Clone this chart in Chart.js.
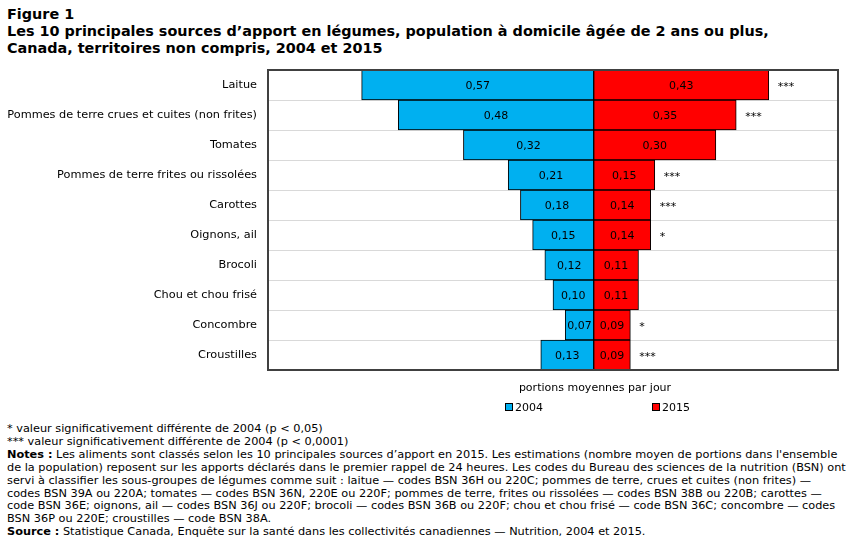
<!DOCTYPE html>
<html>
<head>
<meta charset="utf-8">
<script src="https://cdn.jsdelivr.net/npm/chart.js@4"></script>
<style>
  body { margin: 0; background: #fff; font-family: "DejaVu Sans", Verdana, sans-serif; color: #000; }
  #wrap { position: relative; width: 852px; height: 545px; overflow: hidden; }
  #title { position: absolute; left: 7px; top: 6px; font-size: 14.4px; line-height: 17px; font-weight: bold; white-space: nowrap; }
  #chart { position: absolute; left: 0; top: 0; }
  #axisTitle { position: absolute; left: 595px; top: 381px; transform: translateX(-50%); font-size: 11px; white-space: nowrap; }
  .leg { position: absolute; top: 401px; font-size: 11px; white-space: nowrap; }
  .leg span { display: inline-block; width: 6px; height: 6px; border: 1px solid #000; margin-right: 2px; vertical-align: 0px; }
  #notes { position: absolute; left: 7px; top: 423px; font-size: 11.3px; line-height: 12.9px; white-space: nowrap; }
</style>
</head>
<body>
<div id="wrap">
  <div id="title">Figure 1<br>Les 10 principales sources d’apport en légumes, population à domicile âgée de 2 ans ou plus,<br>Canada, territoires non compris, 2004 et 2015</div>
  <canvas id="chart" width="852" height="400"></canvas>
  <div id="axisTitle">portions moyennes par jour</div>
  <div class="leg" style="left:505px"><span style="background:#00b0f0"></span>2004</div>
  <div class="leg" style="left:652px"><span style="background:#ff0000"></span>2015</div>
  <div id="notes">
    * valeur significativement différente de 2004 (p &lt; 0,05)<br>
    *** valeur significativement différente de 2004 (p &lt; 0,0001)<br>
    <b>Notes :</b> Les aliments sont classés selon les 10 principales sources d’apport en 2015. Les estimations (nombre moyen de portions dans l'ensemble<br>
    de la population) reposent sur les apports déclarés dans le premier rappel de 24 heures. Les codes du Bureau des sciences de la nutrition (BSN) ont<br>
    servi à classifier les sous-groupes de légumes comme suit : laitue — codes BSN 36H ou 220C; pommes de terre, crues et cuites (non frites) —<br>
    codes BSN 39A ou 220A; tomates — codes BSN 36N, 220E ou 220F; pommes de terre, frites ou rissolées — codes BSN 38B ou 220B; carottes —<br>
    code BSN 36E; oignons, ail — codes BSN 36J ou 220F; brocoli — codes BSN 36B ou 220F; chou et chou frisé — code BSN 36C; concombre — codes<br>
    BSN 36P ou 220E; croustilles — code BSN 38A.<br>
    <b>Source :</b> Statistique Canada, Enquête sur la santé dans les collectivités canadiennes — Nutrition, 2004 et 2015.
  </div>
</div>
<script>
// data
var categories = ["Laitue", "Pommes de terre crues et cuites (non frites)", "Tomates",
    "Pommes de terre frites ou rissolées", "Carottes", "Oignons, ail", "Brocoli",
    "Chou et chou frisé", "Concombre", "Croustilles"];
var values2004 = [0.57, 0.48, 0.32, 0.21, 0.18, 0.15, 0.12, 0.10, 0.07, 0.13];
var values2015 = [0.43, 0.35, 0.30, 0.15, 0.14, 0.14, 0.11, 0.11, 0.09, 0.09];
var signif = ["***", "***", "", "***", "***", "*", "", "", "*", "***"];

var FONT = "DejaVu Sans";

//bar labels + significance marks
var labelPlugin = {
    id: "barLabels",
    afterDatasetsDraw(chart) {
        var ctx = chart.ctx;
        ctx.save();
        ctx.font = "11px '" + FONT + "'";
        ctx.fillStyle = "#000";
        ctx.textBaseline = "middle";
        chart.data.datasets.forEach((ds, di) => {
            chart.getDatasetMeta(di).data.forEach((bar, i) => {
                var v = Math.abs(ds.data[i]);
                ctx.textAlign = "center";
                ctx.fillText(v.toFixed(2).replace(".", ","), (bar.x + bar.base) / 2, bar.y + 1);
                if (di == 1 && signif[i]) {
                    ctx.textAlign = "left";
                    ctx.fillText(signif[i], bar.x + 9, bar.y + 2);
                }
            });
        });
        ctx.restore();
    }
};

//frame round plot area
var framePlugin = {
    id: "frame",
    afterDraw(chart) {
        var a = chart.chartArea, ctx = chart.ctx;
        ctx.save();
        ctx.strokeStyle = "#404040";
        ctx.lineWidth = 2;
        ctx.strokeRect(a.left, a.top, a.right - a.left, a.bottom - a.top);
        ctx.restore();
    }
};

new Chart(document.getElementById("chart"), {
    type: "bar",
    data: {
        labels: categories,
        datasets: [{
            label: "2004",
            data: values2004.map(v => -v),
            backgroundColor: "#00b0f0",
            borderColor: "#000",
            borderWidth: 1,
            borderSkipped: false,
            barPercentage: 1,
            categoryPercentage: 1
        }, {
            label: "2015",
            data: values2015,
            backgroundColor: "#ff0000",
            borderColor: "#000",
            borderWidth: 1,
            borderSkipped: false,
            barPercentage: 1,
            categoryPercentage: 1
        }]
    },
    options: {
        indexAxis: "y",
        responsive: false,
        animation: false,
        devicePixelRatio: 1,
        layout: { padding: { top: 70, right: 14, bottom: 30, left: 0 } },
        plugins: {
            legend: { display: false },
            tooltip: { enabled: false }
        },
        scales: {
            x: {
                display: false,
                stacked: true,
                min: -0.8,
                max: 0.6
            },
            y: {
                stacked: true,
                afterFit(scale) { scale.width = 268; },
                border: { display: false },
                grid: { color: "#d9d9d9", offset: true, drawTicks: false },
                ticks: { color: "#000", padding: 11, font: { family: FONT, size: 11.3 } }
            }
        }
    },
    plugins: [labelPlugin, framePlugin]
});
</script>
</body>
</html>
